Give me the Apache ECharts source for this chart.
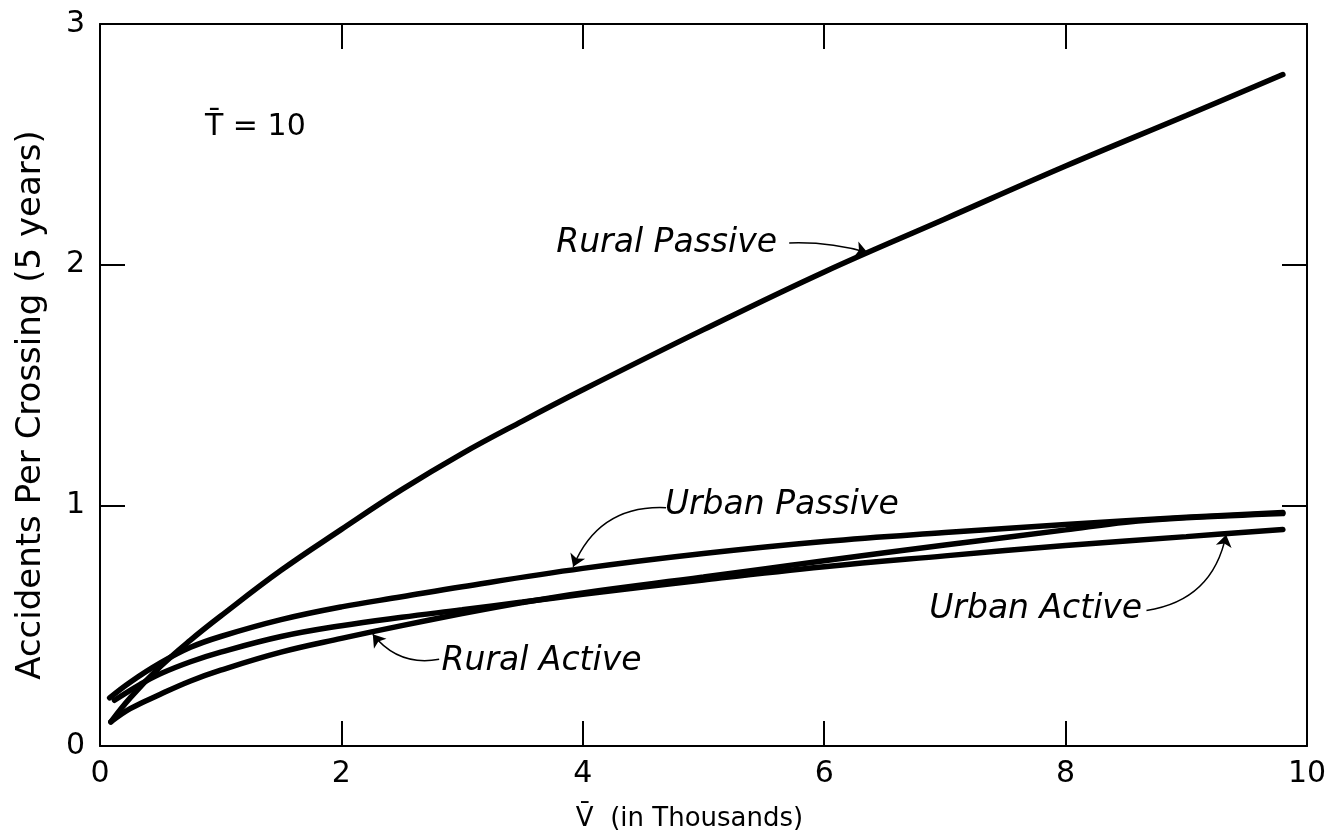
<!DOCTYPE html>
<html>
<head>
<meta charset="utf-8">
<script src="https://cdn.jsdelivr.net/npm/echarts@6/dist/echarts.min.js"></script>
<style>
html,body{margin:0;padding:0;background:#fff;}
#chart{width:1335px;height:838px;}
</style>
</head>
<body>
<div id="chart"></div>
<script>
// ---- data ----
const xTicks = [0, 2, 4, 6, 8, 10];
const yTicks = [0, 1, 2, 3];

const ruralPassive = [[0.09,0.10],[0.25,0.20],[0.5,0.33],[0.75,0.44],[1,0.54],[1.5,0.73],[2,0.90],[2.5,1.065],[3,1.215],[3.5,1.35],[4,1.48],[5,1.73],[6,1.97],[7,2.19],[8,2.41],[9,2.62],[9.8,2.79]];
const urbanPassive = [[0.08,0.20],[0.25,0.265],[0.5,0.345],[0.75,0.41],[1,0.455],[1.5,0.525],[2,0.578],[2.5,0.62],[3,0.662],[4,0.738],[5,0.80],[6,0.85],[7,0.887],[8,0.92],[9,0.95],[9.8,0.97]];
const urbanActive = [[0.12,0.19],[0.33,0.255],[0.5,0.30],[0.75,0.35],[1,0.39],[1.5,0.455],[2,0.50],[2.5,0.535],[3,0.566],[3.5,0.598],[4,0.63],[5,0.69],[6,0.745],[7,0.79],[8,0.833],[9,0.87],[9.8,0.90]];
const ruralActive = [[0.09,0.10],[0.25,0.155],[0.5,0.215],[0.75,0.27],[1,0.315],[1.5,0.39],[2,0.447],[2.5,0.50],[3,0.55],[3.5,0.596],[4,0.636],[5,0.702],[6,0.77],[7,0.835],[8,0.898],[8.5,0.93],[9,0.948],[9.8,0.966]];

// annotation labels: [x, y, text]
const labelPoints = [
  [3.78, 2.09, 'Rural Passive'],
  [4.68, 1.00, 'Urban Passive'],
  [2.83, 0.35, 'Rural Active'],
  [6.87, 0.567, 'Urban Active']
];
// annotation arrows: [tail, tip, curveness]
const arrows = [
  [[5.71, 2.09], [6.36, 2.05], 0.08],
  [[4.69, 0.99], [3.92, 0.745], -0.35],
  [[2.81, 0.36], [2.26, 0.464], 0.3],
  [[8.67, 0.563], [9.33, 0.878], -0.35]
];
const paramNote = [[0.87, 2.57, 'T\u0304 = 10']];

const FONT = 'DejaVu Sans';
const chart = echarts.init(document.getElementById('chart'), null, {renderer: 'canvas'});

function curve(name, data) {
  return {
    name, type: 'line', data, smooth: 0.4, showSymbol: false, symbol: 'none',
    lineStyle: {color: '#000', width: 5.5, cap: 'round'}, xAxisIndex: 0, yAxisIndex: 0, z: 3
  };
}
const axisLineStyle = {color: '#000', width: 2};
const tickStyle = {color: '#000', width: 2};

const option = {
  animation: false,
  backgroundColor: '#fff',
  grid: {left: 100, right: 28, top: 24, bottom: 92, containLabel: false},
  xAxis: [
    {type: 'value', min: 0, max: 10, interval: 2, position: 'bottom',
     axisLine: {show: true, onZero: false, lineStyle: axisLineStyle},
     axisTick: {show: true, inside: true, length: 25, lineStyle: tickStyle},
     splitLine: {show: false},
     axisLabel: {color: '#000', fontFamily: FONT, fontSize: 30, margin: 13},
     name: 'V\u0304  (in Thousands)', nameLocation: 'middle', nameGap: 60,
     nameTextStyle: {color: '#000', fontFamily: FONT, fontSize: 26, padding: [0, 28, 0, 0]}},
    {type: 'value', min: 0, max: 10, interval: 2, position: 'top',
     axisLine: {show: true, onZero: false, lineStyle: axisLineStyle},
     axisTick: {show: true, inside: true, length: 25, lineStyle: tickStyle},
     splitLine: {show: false}, axisLabel: {show: false}}
  ],
  yAxis: [
    {type: 'value', min: 0, max: 3, interval: 1, position: 'left',
     axisLine: {show: true, onZero: false, lineStyle: axisLineStyle},
     axisTick: {show: true, inside: true, length: 25, lineStyle: tickStyle},
     splitLine: {show: false},
     axisLabel: {color: '#000', fontFamily: FONT, fontSize: 30, margin: 15},
     name: 'Accidents Per Crossing (5 years)', nameLocation: 'middle', nameGap: 52, nameRotate: 90,
     nameTextStyle: {color: '#000', fontFamily: FONT, fontSize: 34, padding: [0, 40, 0, 0]}},
    {type: 'value', min: 0, max: 3, interval: 1, position: 'right',
     axisLine: {show: true, onZero: false, lineStyle: axisLineStyle},
     axisTick: {show: true, inside: true, length: 25, lineStyle: tickStyle},
     splitLine: {show: false}, axisLabel: {show: false}}
  ],
  series: [
    curve('Rural Passive', ruralPassive),
    curve('Urban Passive', urbanPassive),
    curve('Urban Active', urbanActive),
    curve('Rural Active', ruralActive),
    {
      type: 'scatter', symbolSize: 0, silent: true,
      itemStyle: {color: '#000', opacity: 1},
      data: labelPoints.map(p => ({value: [p[0], p[1]], name: p[2]})),
      label: {show: true, position: 'right', distance: 0, formatter: p => p.name, opacity: 1,
        color: '#000', fontFamily: FONT, fontStyle: 'italic', fontSize: 33}
    },
    {
      type: 'scatter', symbolSize: 0, silent: true,
      itemStyle: {color: '#000', opacity: 1},
      data: paramNote.map(p => ({value: [p[0], p[1]], name: p[2]})),
      label: {show: true, position: 'right', distance: 0, formatter: p => p.name, opacity: 1,
        color: '#000', fontFamily: FONT, fontSize: 30}
    },
    {
      type: 'lines', coordinateSystem: 'cartesian2d', silent: true,
      symbol: ['none', 'arrow'], symbolSize: [0, 12],
      data: arrows.map(a => ({coords: [a[0], a[1]], lineStyle: {curveness: a[2]}})),
      lineStyle: {color: '#000', width: 1.5, opacity: 1}
    }
  ]
};
chart.setOption(option);
</script>
</body>
</html>
